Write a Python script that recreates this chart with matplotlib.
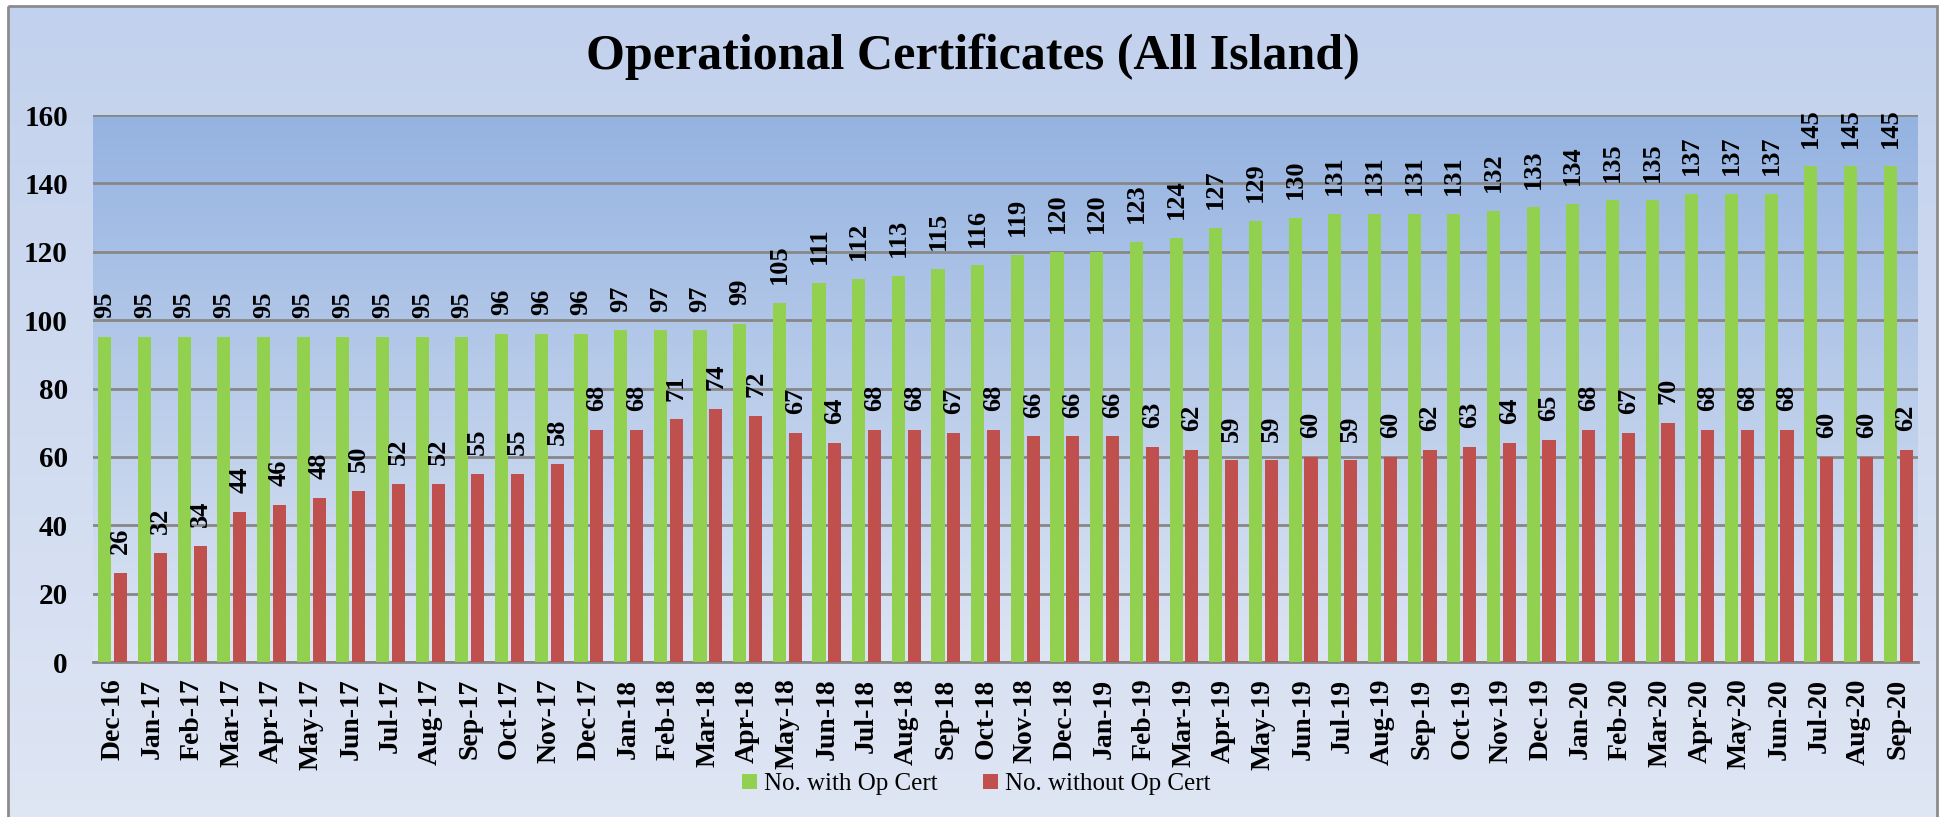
import numpy as np
import matplotlib.pyplot as plt
from matplotlib.patches import Rectangle
from matplotlib.colors import LinearSegmentedColormap

## Data
months = ["Dec-16",
          "Jan-17", "Feb-17", "Mar-17", "Apr-17", "May-17", "Jun-17",
          "Jul-17", "Aug-17", "Sep-17", "Oct-17", "Nov-17", "Dec-17",
          "Jan-18", "Feb-18", "Mar-18", "Apr-18", "May-18", "Jun-18",
          "Jul-18", "Aug-18", "Sep-18", "Oct-18", "Nov-18", "Dec-18",
          "Jan-19", "Feb-19", "Mar-19", "Apr-19", "May-19", "Jun-19",
          "Jul-19", "Aug-19", "Sep-19", "Oct-19", "Nov-19", "Dec-19",
          "Jan-20", "Feb-20", "Mar-20", "Apr-20", "May-20", "Jun-20",
          "Jul-20", "Aug-20", "Sep-20"]
with_cert = [95, 95, 95, 95, 95, 95, 95, 95, 95, 95,
             96, 96, 96, 97, 97, 97, 99, 105, 111, 112,
             113, 115, 116, 119, 120, 120, 123, 124, 127, 129,
             130, 131, 131, 131, 131, 132, 133, 134, 135, 135,
             137, 137, 137, 145, 145, 145]
without_cert = [26, 32, 34, 44, 46, 48, 50, 52, 52, 55,
                55, 58, 68, 68, 71, 74, 72, 67, 64, 68,
                68, 67, 68, 66, 66, 66, 63, 62, 59, 59,
                60, 59, 60, 62, 63, 64, 65, 68, 67, 70,
                68, 68, 68, 60, 60, 62]
y_ticks = [0, 20, 40, 60, 80, 100, 120, 140, 160]

green = "#92d050"
red = "#c0504d"
serif = ["Liberation Serif", "DejaVu Serif"]

fig = plt.figure(figsize=(19.45, 8.17), dpi=100)
fig.patch.set_facecolor("white")

# Figure background gradient (chart area) with grey border
bg = fig.add_axes([0, 0, 1, 1], zorder=-2)
bg.set_xlim(0, 1945)
bg.set_ylim(817, 0)
bg.axis("off")
fig_cmap = LinearSegmentedColormap.from_list("figbg", ["#c2d1ed", "#dfe6f4"])
bg.imshow(np.linspace(0, 1, 256).reshape(-1, 1), cmap=fig_cmap, aspect="auto",
          extent=[8, 1937, 830, 6], zorder=0)
bg.add_patch(Rectangle((8, 6), 1929, 830, fill=False, edgecolor="#8c8c8c", lw=2, zorder=1))

ax = fig.add_axes([0.0478, 0.1897, 0.9383, 0.6695])
x = np.arange(len(months))
width = 0.33

# Plot area gradient
plot_cmap = LinearSegmentedColormap.from_list("plotbg", ["#95b3e1", "#dde5f3"])
ax.imshow(np.linspace(0, 1, 256).reshape(-1, 1), cmap=plot_cmap, aspect="auto",
          extent=[-0.5, len(months) - 0.5, 0, 160], zorder=0)

ax.bar(x - 0.2, with_cert, width, color=green, label="No. with Op Cert", zorder=3)
ax.bar(x + 0.2, without_cert, width, color=red, label="No. without Op Cert", zorder=3)

# Data labels
for i in range(len(months)):
    ax.annotate(str(with_cert[i]), (x[i] - 0.2, with_cert[i]), xytext=(0, 13.5),
                textcoords="offset points", rotation=90, ha="center", va="bottom",
                fontsize=19, fontweight="bold", family=serif, zorder=4)
    ax.annotate(str(without_cert[i]), (x[i] + 0.2, without_cert[i]), xytext=(0, 13.5),
                textcoords="offset points", rotation=90, ha="center", va="bottom",
                fontsize=19, fontweight="bold", family=serif, zorder=4)

ax.set_xlim(-0.5, len(months) - 0.5)
ax.set_ylim(0, 160)
ax.set_yticks(y_ticks)
ax.set_yticklabels([str(v) for v in y_ticks], fontsize=21, fontweight="bold", family=serif)
ax.set_xticks(x)
ax.set_xticklabels(months, rotation=90, fontsize=20, fontweight="bold", family=serif)
ax.tick_params(axis="y", length=0, pad=18)
ax.tick_params(axis="x", length=0, pad=12)
ax.yaxis.grid(True, color="#878787", lw=2, zorder=1)
ax.set_axisbelow(False)
for s in ["top", "right", "left"]:
    ax.spines[s].set_visible(False)
ax.spines["bottom"].set_color("#878787")
ax.spines["bottom"].set_linewidth(2)

fig.text(0.5, 0.931, "Operational Certificates (All Island)", ha="center", va="center",
         fontsize=36, fontweight="bold", family=serif)

fig.legend(loc="center", bbox_to_anchor=(0.502, 0.04), ncol=2, frameon=False,
           prop={"family": serif, "size": 18}, handlelength=0.6, handleheight=0.6,
           handletextpad=0.3, columnspacing=1.8)

fig.savefig("out.png", dpi=100)
